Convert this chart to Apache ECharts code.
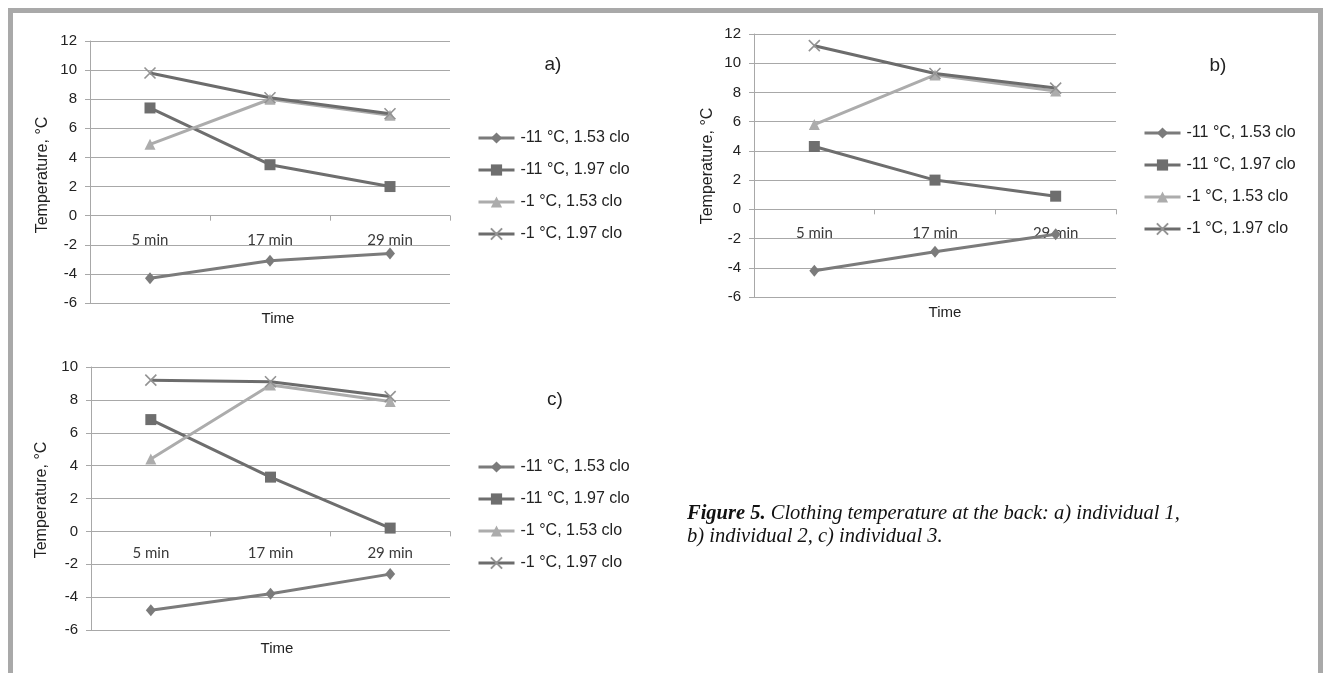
<!DOCTYPE html>
<html><head><meta charset="utf-8">
<script src="https://cdn.jsdelivr.net/npm/echarts@6/dist/echarts.min.js"></script>
<style>
html,body{margin:0;padding:0;width:1327px;height:673px;overflow:hidden;background:#fff;}
#frame{position:absolute;left:8px;top:8px;width:1315px;height:720px;border:5px solid #a9a9a9;box-sizing:border-box;}
#chart{position:absolute;left:0;top:0;width:1327px;height:673px;}
</style></head><body>
<div id="frame"></div><div id="chart"></div>
<script>
// ---- data ----
const categories = ['5 min', '17 min', '29 min'];
const seriesNames = ['-11 °C, 1.53 clo', '-11 °C, 1.97 clo', '-1 °C, 1.53 clo', '-1 °C, 1.97 clo'];
const panelLabels = ['a)', 'b)', 'c)'];
const yMax = [12, 12, 10];
const yMin = [-6, -6, -6];

// panel a) individual 1
const a_m11_153 = [-4.3, -3.1, -2.6];
const a_m11_197 = [7.4, 3.5, 2.0];
const a_m1_153 = [4.9, 8.0, 6.9];
const a_m1_197 = [9.8, 8.1, 7.0];
// panel b) individual 2
const b_m11_153 = [-4.2, -2.9, -1.7];
const b_m11_197 = [4.3, 2.0, 0.9];
const b_m1_153 = [5.8, 9.2, 8.1];
const b_m1_197 = [11.2, 9.3, 8.3];
// panel c) individual 3
const c_m11_153 = [-4.8, -3.8, -2.6];
const c_m11_197 = [6.8, 3.3, 0.2];
const c_m1_153 = [4.4, 8.9, 7.9];
const c_m1_197 = [9.2, 9.1, 8.2];

const panelData = [
  [a_m11_153, a_m11_197, a_m1_153, a_m1_197],
  [b_m11_153, b_m11_197, b_m1_153, b_m1_197],
  [c_m11_153, c_m11_197, c_m1_153, c_m1_197]
];

// ---- layout / style ----
const grids = [
  {left: 90, top: 41, width: 360, height: 262},
  {left: 754, top: 34, width: 362, height: 263},
  {left: 91, top: 367, width: 359, height: 263}
];
const labelMargins = [-70, -71, -84];
const legendPos = [
  {left: 477, top: 130},
  {left: 1143, top: 125},
  {left: 477, top: 459}
];
const gridColor = '#a8a8a8';
const xPath = 'path://M0,0L10,10M10,0L0,10';
const styles = [
  {line: '#7b7b7b', symbol: 'diamond', size: [10, 12], item: {color: '#7b7b7b'}},
  {line: '#6e6e6e', symbol: 'rect', size: 11, item: {color: '#6e6e6e'}},
  {line: '#acacac', symbol: 'triangle', size: 11, item: {color: '#acacac'}},
  {line: '#6c6c6c', symbol: xPath, size: 11, item: {color: '#6c6c6c', borderColor: '#939393', borderWidth: 1.6}}
];

const option = {
  animation: false,
  backgroundColor: 'transparent',
  grid: grids.map(g => Object.assign({outerBoundsMode: 'none', containLabel: false}, g)),
  xAxis: grids.map((g, i) => ({
    type: 'category', gridIndex: i, data: categories, boundaryGap: true,
    axisLine: {show: true, onZero: true, lineStyle: {color: gridColor, width: 1}},
    axisTick: {show: true, length: 5, lineStyle: {color: gridColor}},
    axisLabel: {margin: labelMargins[i], fontSize: 15, fontFamily: 'Lato', color: '#3a3a3a'},
    splitLine: {show: false}
  })),
  yAxis: grids.map((g, i) => ({
    type: 'value', gridIndex: i, min: yMin[i], max: yMax[i], interval: 2,
    axisLine: {show: true, lineStyle: {color: gridColor, width: 1}},
    axisTick: {show: true, length: 5, lineStyle: {color: gridColor}},
    axisLabel: {margin: 13, fontSize: 15, fontFamily: 'Liberation Sans', color: '#222'},
    splitLine: {show: true, lineStyle: {color: gridColor, width: 1}}
  })),
  legend: legendPos.map(p => ({
    orient: 'vertical', left: p.left, top: p.top, padding: 0, itemWidth: 36, itemHeight: 14, itemGap: 16,
    selectedMode: false, data: seriesNames,
    lineStyle: {width: 3},
    textStyle: {fontSize: 16, fontFamily: 'Liberation Sans', color: '#222', padding: [0, 0, 0, 1]}
  })),
  series: [],
  graphic: []
};

panelData.forEach((arrs, p) => {
  arrs.forEach((vals, k) => {
    const st = styles[k];
    option.series.push({
      type: 'line', name: seriesNames[k], xAxisIndex: p, yAxisIndex: p, data: vals,
      symbol: st.symbol, symbolSize: st.size, showSymbol: true,
      lineStyle: {color: st.line, width: 3},
      itemStyle: st.item,
      emphasis: {disabled: true}
    });
  });
});

const yNamePos = [[43, 175], [708, 166], [42, 500]];
const timePos = [[278, 319], [945, 313], [277, 649]];
const labelPos = [[553, 65], [1218, 66], [555, 400]];
for (let i = 0; i < 3; i++) {
  option.graphic.push({type: 'text', x: yNamePos[i][0], y: yNamePos[i][1], rotation: Math.PI / 2,
    style: {text: 'Temperature, °C', fontSize: 16, fontFamily: 'Liberation Sans', fill: '#222', align: 'center', verticalAlign: 'middle'}});
  option.graphic.push({type: 'text', x: timePos[i][0], y: timePos[i][1],
    style: {text: 'Time', fontSize: 15, fontFamily: 'Liberation Sans', fill: '#222', align: 'center', verticalAlign: 'middle'}});
  option.graphic.push({type: 'text', x: labelPos[i][0], y: labelPos[i][1],
    style: {text: panelLabels[i], fontSize: 19, fontFamily: 'Liberation Sans', fill: '#222', align: 'center', verticalAlign: 'middle'}});
}
option.graphic.push({type: 'text', x: 687, y: 514,
  style: {text: '{b|Figure 5.} Clothing temperature at the back: a) individual 1,', fontSize: 20.5, fontStyle: 'italic',
    fontFamily: 'Liberation Serif', fill: '#111', align: 'left', verticalAlign: 'middle',
    rich: {b: {fontWeight: 'bold', fontStyle: 'italic', fontSize: 20.5, fontFamily: 'Liberation Serif', fill: '#111'}}}});
option.graphic.push({type: 'text', x: 687, y: 537,
  style: {text: 'b) individual 2, c) individual 3.', fontSize: 20.5, fontStyle: 'italic',
    fontFamily: 'Liberation Serif', fill: '#111', align: 'left', verticalAlign: 'middle'}});

const chart = echarts.init(document.getElementById('chart'), null, {renderer: 'canvas'});
chart.setOption(option);
</script>
</body></html>
